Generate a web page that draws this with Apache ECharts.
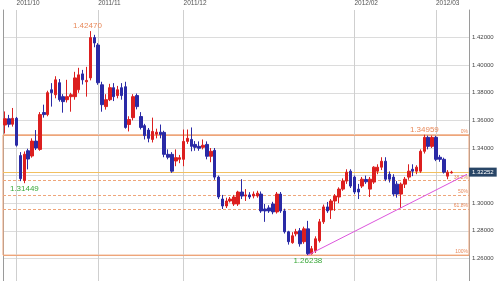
<!DOCTYPE html>
<html><head><meta charset="utf-8">
<script src="https://cdn.jsdelivr.net/npm/echarts@6/dist/echarts.min.js"></script>
<style>html,body{margin:0;padding:0;overflow:hidden;background:#fff}#c{width:498px;height:287px}</style>
</head><body><div id="c"></div>
<script>
const dates = [
'2011/09/28','2011/09/29','2011/09/30',
'2011/10/03','2011/10/04','2011/10/05','2011/10/06','2011/10/07','2011/10/10','2011/10/11','2011/10/12','2011/10/13','2011/10/14',
'2011/10/17','2011/10/18','2011/10/19','2011/10/20','2011/10/21','2011/10/24','2011/10/25','2011/10/26','2011/10/27','2011/10/28','2011/10/31',
'2011/11/01','2011/11/02','2011/11/03','2011/11/04','2011/11/07','2011/11/08','2011/11/09','2011/11/10','2011/11/11','2011/11/14','2011/11/15',
'2011/11/16','2011/11/17','2011/11/18','2011/11/21','2011/11/22','2011/11/23','2011/11/24','2011/11/25','2011/11/28','2011/11/29','2011/11/30',
'2011/12/01','2011/12/02','2011/12/05','2011/12/06','2011/12/07','2011/12/08','2011/12/09','2011/12/12','2011/12/13','2011/12/14','2011/12/15',
'2011/12/16','2011/12/19','2011/12/20','2011/12/21','2011/12/22','2011/12/23','2011/12/26','2011/12/27','2011/12/28','2011/12/29','2011/12/30',
'2012/01/02','2012/01/03','2012/01/04','2012/01/05','2012/01/06','2012/01/09','2012/01/10','2012/01/11','2012/01/12','2012/01/13','2012/01/16',
'2012/01/17','2012/01/18','2012/01/19','2012/01/20','2012/01/23','2012/01/24','2012/01/25','2012/01/26','2012/01/27','2012/01/30','2012/01/31',
'2012/02/01','2012/02/02','2012/02/03','2012/02/06','2012/02/07','2012/02/08','2012/02/09','2012/02/10','2012/02/13','2012/02/14','2012/02/15',
'2012/02/16','2012/02/17','2012/02/20','2012/02/21','2012/02/22','2012/02/23','2012/02/24','2012/02/27','2012/02/28','2012/02/29',
'2012/03/01','2012/03/02','2012/03/05','2012/03/06','2012/03/07','2012/03/08','2012/03/09','2012/03/12','2012/03/13'
];
const opens = [1.3567,1.3612,1.3572,1.3615,1.3345,1.3165,1.3380,1.3342,1.3450,1.3390,1.3657,1.3642,1.3822,1.3786,1.3873,1.3772,1.3750,1.3772,1.3772,1.3822,
1.3937,1.3880,1.3908,1.4200,1.4146,1.3858,1.3700,1.3750,1.3837,1.3780,1.3837,1.3844,1.3570,1.3620,1.3780,1.3628,1.3562,1.3530,1.3462,1.3500,
1.3515,1.3513,1.3354,1.3354,1.3306,1.3318,1.3318,1.3448,1.3462,1.3426,1.3412,1.3405,1.3426,1.3340,1.3383,1.3189,1.3030,1.2980,1.3016,1.2994,
1.2994,1.3081,1.3052,1.3060,1.3052,1.3052,1.3066,1.2958,1.2966,1.2994,1.2937,1.3066,1.2944,1.2793,1.2714,1.2778,1.2800,1.2721,1.2814,1.2634,
1.2656,1.2728,1.2865,1.2973,1.2951,1.3016,1.3045,1.3102,1.3160,1.3232,1.3189,1.3102,1.3124,1.3172,1.3102,1.3153,1.3232,1.3261,1.3304,1.3210,
1.3189,1.3138,1.3066,1.3138,1.3189,1.3246,1.3232,1.3232,1.3376,1.3477,1.3412,1.3477,1.3333,1.3318,1.3196,1.3220];
const closes = [1.3612,1.3572,1.3615,1.3420,1.3178,1.3355,1.3320,1.3450,1.3400,1.3642,1.3642,1.3801,1.3801,1.3894,1.3750,1.3736,1.3772,1.3786,1.3908,1.3930,
1.3894,1.3890,1.4200,1.4161,1.3873,1.3714,1.3750,1.3837,1.3772,1.3822,1.3780,1.3549,1.3606,1.3772,1.3700,1.3549,1.3490,1.3470,1.3520,1.3515,
1.3498,1.3354,1.3333,1.3232,1.3330,1.3330,1.3448,1.3470,1.3412,1.3405,1.3398,1.3420,1.3340,1.3376,1.3189,1.3045,1.2980,1.3016,1.3030,1.3045,
1.3081,1.3052,1.3060,1.3045,1.3066,1.3073,1.2944,1.2944,1.2944,1.2937,1.3066,1.2944,1.2793,1.2721,1.2764,1.2793,1.2706,1.2814,1.2634,1.2670,
1.2742,1.2865,1.2973,1.2944,1.3016,1.3052,1.3102,1.3160,1.3225,1.3124,1.3081,1.3081,1.3174,1.3155,1.3174,1.3261,1.3261,1.3304,1.3174,1.3174,
1.3066,1.3066,1.3138,1.3174,1.3232,1.3232,1.3261,1.3376,1.3477,1.3412,1.3477,1.3318,1.3318,1.3225,1.3225,1.32252];
const lows = [1.3505,1.3550,1.3555,1.3410,1.3160,1.31449,1.3245,1.3330,1.3385,1.3380,1.3620,1.3630,1.3700,1.3760,1.3736,1.3656,1.3730,1.3663,1.3750,1.3800,
1.3860,1.3772,1.3890,1.4130,1.3858,1.3663,1.3678,1.3740,1.3740,1.3760,1.3750,1.3540,1.3520,1.3600,1.3680,1.3534,1.3462,1.3441,1.3440,1.3470,
1.3470,1.3333,1.3318,1.3220,1.3268,1.3290,1.3268,1.3430,1.3376,1.3380,1.3380,1.3390,1.3318,1.3297,1.3170,1.3030,1.2958,1.2965,1.3005,1.2980,
1.2980,1.3030,1.3016,1.3030,1.3035,1.3040,1.2930,1.2865,1.2930,1.2920,1.2925,1.2930,1.2780,1.2700,1.2706,1.2760,1.2685,1.2706,1.26238,1.2628,
1.2640,1.2715,1.2850,1.2930,1.2886,1.2944,1.3000,1.3090,1.3140,1.3110,1.3066,1.3030,1.3110,1.3140,1.3045,1.3140,1.3210,1.3240,1.3160,1.3150,
1.3050,1.3040,1.2966,1.3110,1.3170,1.3196,1.3210,1.3220,1.3360,1.3390,1.3400,1.3305,1.3300,1.3215,1.3174,1.3215];
const highs = [1.3665,1.3640,1.3690,1.3625,1.3370,1.3375,1.3395,1.3470,1.3530,1.3660,1.3714,1.3815,1.3870,1.3920,1.3900,1.3790,1.3894,1.3800,1.3952,1.3981,
1.3966,1.3988,1.42470,1.4220,1.4160,1.3880,1.3790,1.3865,1.3870,1.3850,1.3870,1.3880,1.3630,1.3790,1.3795,1.3660,1.3575,1.3545,1.3620,1.3540,
1.3570,1.3525,1.3390,1.3370,1.3390,1.3350,1.3534,1.3534,1.3549,1.3450,1.3448,1.3462,1.3448,1.3400,1.3400,1.3200,1.3060,1.3040,1.3045,1.3060,
1.3090,1.3174,1.3102,1.3080,1.3085,1.3090,1.3085,1.2994,1.2985,1.3010,1.3081,1.3081,1.2960,1.2800,1.2790,1.2814,1.2820,1.2830,1.2872,1.2690,
1.2760,1.2886,1.2990,1.3009,1.3030,1.3066,1.3115,1.3180,1.3246,1.3246,1.3200,1.3140,1.3190,1.3200,1.3190,1.3268,1.3282,1.3333,1.3333,1.3230,
1.3210,1.3160,1.3150,1.3190,1.3282,1.3282,1.3275,1.3390,1.34959,1.3490,1.3490,1.3488,1.3350,1.3330,1.3240,1.3235];

const monthStarts = ['2011/10/03','2011/11/01','2011/12/01','2012/02/01','2012/03/01'];
const monthLabels = ['2011/10','2011/11','2011/12','2012/02','2012/03'];
const fibValues = [1.34959, 1.31628, 1.30599, 1.29569, 1.26238];
const fibLabels = ['0%', '38.2%', '50%', '61.8%', '100%'];
const lastPrice = 1.32252;
const annoDates = ['2011/10/28', '2012/02/27', '2011/10/05', '2012/01/16'];
const annoValues = [1.42470, 1.34959, 1.31449, 1.26238];
const trendDates = ['2012/01/16', '2012/03/13'];
const trendValues = [1.26238, 1.3210];

const FONT = 'Liberation Sans, Arial, sans-serif';
const ORANGE = '#e8895a';
const GREEN = '#3aa83a';
const candleData = opens.map((o, i) => [o, closes[i], lows[i], highs[i]]);
const monthLines = monthStarts.map(d => ({xAxis: d, lineStyle: {color: '#cfcfcf', type: 'solid', width: 1}, label: {show: false}}));
const fibLines = fibValues.map((v, i) => ({
  yAxis: v,
  lineStyle: {color: '#eea57a', width: 1, type: (i === 0 || i === fibValues.length - 1) ? 'solid' : [3, 2]},
  label: {show: true, position: 'insideEndTop', formatter: fibLabels[i], fontSize: 5, color: ORANGE, distance: 1, fontFamily: FONT}
}));
const priceLine = [{
  yAxis: lastPrice, lineStyle: {color: '#f2c060', width: 1, type: 'solid'},
  label: {show: true, position: 'end', formatter: lastPrice.toFixed(5), backgroundColor: '#284566', color: '#ffffff', padding: [2, 3, 1, 3], fontSize: 6, distance: 0, fontFamily: FONT}
}];
const annoPoints = annoValues.map((v, i) => {
  const isHigh = i < 2;
  return {coord: [annoDates[i], v], value: v,
    label: {show: true, position: isHigh ? 'top' : 'bottom', distance: isHigh ? 1 : 2, offset: i === 0 ? [-3, 0] : [0, 0],
      formatter: v.toFixed(5), color: isHigh ? ORANGE : GREEN, fontSize: 8, fontFamily: FONT}};
});
const chart = echarts.init(document.getElementById('c'), null, {renderer: 'canvas'});
chart.setOption({
  animation: false, backgroundColor: '#ffffff',
  grid: {left: 3, right: 29, top: 9, bottom: 1, show: false},
  xAxis: {type: 'category', data: dates, position: 'top', offset: 2, boundaryGap: true,
    axisLine: {show: true, lineStyle: {color: '#9a9a9a', width: 1}}, axisTick: {show: false}, splitLine: {show: false},
    axisLabel: {interval: (idx, val) => monthStarts.indexOf(val) >= 0, formatter: val => monthLabels[monthStarts.indexOf(val)] || '',
      align: 'left', fontSize: 6.5, color: '#555', margin: 1, fontFamily: FONT}},
  yAxis: [{type: 'value', position: 'right', min: 1.24, max: 1.44, interval: 0.02, scale: true,
    axisLine: {show: true, lineStyle: {color: '#9a9a9a', width: 1}}, axisTick: {show: false},
    axisLabel: {color: '#444', fontSize: 6, margin: 3, fontFamily: FONT, showMaxLabel: false, showMinLabel: false,
      formatter: v => Math.abs(v - 1.32) < 1e-6 ? '' : v.toFixed(5)},
    splitLine: {show: true, showMaxLine: false, lineStyle: {color: '#dcdcdc', width: 1}}},
   {type: 'value', position: 'left', min: 0, max: 1, axisLine: {show: true, lineStyle: {color: '#9a9a9a', width: 1}},
    axisTick: {show: false}, axisLabel: {show: false}, splitLine: {show: false}}],
  series: [{type: 'candlestick', data: candleData, barWidth: 3, z: 2,
    itemStyle: {color: '#dc1f1f', color0: '#2a2aa6', borderColor: '#dc1f1f', borderColor0: '#2a2aa6', borderWidth: 1},
    markLine: {silent: true, z: 1, precision: 5, symbol: ['none', 'none'], animation: false, data: monthLines.concat(fibLines, priceLine)},
    markArea: {silent: true, z: 1, itemStyle: {color: 'rgba(0,0,0,0)', borderColor: '#eea57a', borderWidth: 1},
      data: [[{yAxis: fibValues[0]}, {yAxis: fibValues[fibValues.length - 1]}]]},
    markPoint: {silent: true, symbol: 'circle', symbolSize: 0, animation: false, data: annoPoints}
  }, {type: 'line', data: trendDates.map((d, i) => [d, trendValues[i]]), symbol: 'none', silent: true, z: 3,
    lineStyle: {color: '#dd55dd', width: 1}}]
});
</script>
</body></html>
